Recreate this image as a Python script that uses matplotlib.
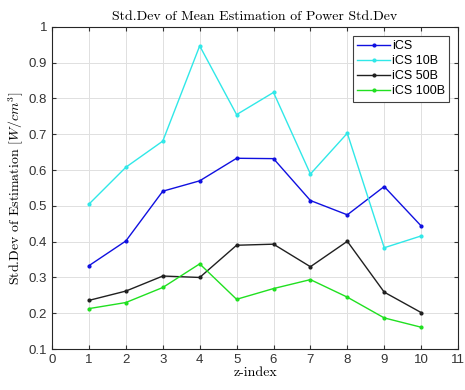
import numpy as np
import matplotlib
matplotlib.use("Agg")
from matplotlib import pyplot as plt

plt.rcParams['mathtext.fontset'] = 'cm'

z_index = [1, 2, 3, 4, 5, 6, 7, 8, 9, 10]
ics = [0.333, 0.402, 0.541, 0.570, 0.633, 0.632, 0.515, 0.475, 0.554, 0.444]
ics_10b = [0.505, 0.608, 0.681, 0.947, 0.755, 0.817, 0.589, 0.703, 0.383, 0.416]
ics_50b = [0.236, 0.262, 0.304, 0.300, 0.390, 0.393, 0.330, 0.401, 0.259, 0.202]
ics_100b = [0.213, 0.230, 0.272, 0.338, 0.239, 0.269, 0.294, 0.245, 0.187, 0.161]

fig = plt.figure(figsize=(4.65, 3.9), dpi=100)
ax = fig.add_axes([0.112, 0.105, 0.873, 0.826])

ax.plot(z_index, ics, '.-', color='#1010e0', lw=1, ms=4, label='iCS')
ax.plot(z_index, ics_10b, '.-', color='#30e8e8', lw=1, ms=4, label='iCS 10B')
ax.plot(z_index, ics_50b, '.-', color='#202020', lw=1, ms=4, label='iCS 50B')
ax.plot(z_index, ics_100b, '.-', color='#20e020', lw=1, ms=4, label='iCS 100B')

ax.set_xlim(0, 11)
ax.set_ylim(0.1, 1)
ax.set_xticks(range(0, 12))
ax.set_yticks(np.arange(0.1, 1.01, 0.1))
ax.set_yticklabels(['0.1', '0.2', '0.3', '0.4', '0.5', '0.6', '0.7', '0.8', '0.9', '1'])
ax.grid(True, color='#e0e0e0', lw=0.7)
ax.set_axisbelow(True)
ax.tick_params(direction='in', top=True, right=True, labelsize=9.5, colors='#333333', length=3)
for lab in ax.get_xticklabels() + ax.get_yticklabels():
    lab.set_family('Liberation Sans')
for s in ax.spines.values():
    s.set_color('#262626')
    s.set_linewidth(0.8)

ax.set_title('Std.Dev of Mean Estimation of Power Std.Dev', family='cmr10', fontsize=10, pad=5)
ax.set_xlabel('z-index', family='cmr10', fontsize=10, labelpad=1)
ax.set_ylabel(r'Std.Dev of Estimation $[W/cm^3]$', family='cmr10', fontsize=10, labelpad=2)

leg = ax.legend(loc='upper right', fancybox=False, framealpha=1,
                edgecolor='#404040', borderaxespad=0.7, handlelength=2.6,
                handletextpad=0.15, borderpad=0.35, labelspacing=0.25,
                prop={'family': 'Liberation Sans', 'size': 9})
leg.get_frame().set_linewidth(0.8)

fig.savefig('out.png', dpi=100)
